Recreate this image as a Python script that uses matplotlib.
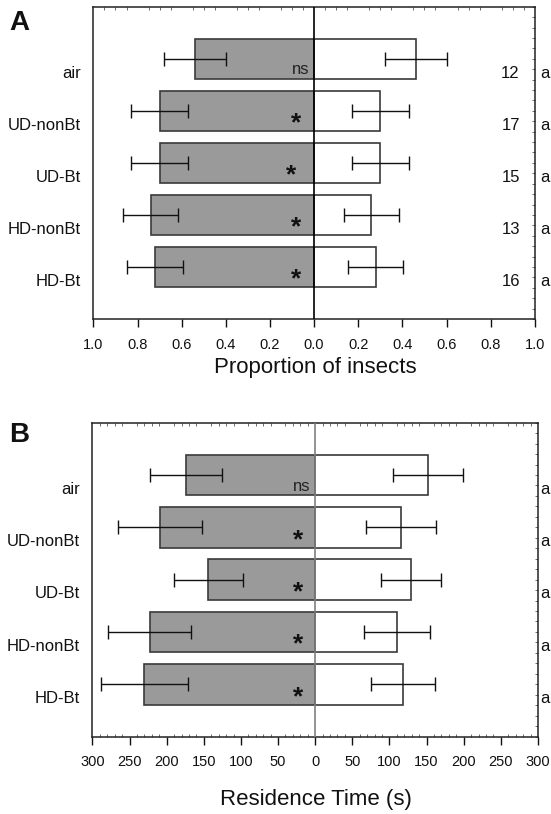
import numpy as np
import matplotlib
matplotlib.use("Agg")
import matplotlib.pyplot as plt
from matplotlib.ticker import MultipleLocator
import matplotlib.transforms as mtransforms

plt.rcParams['font.family'] = ['Liberation Sans', 'DejaVu Sans']

# ---------------- data ----------------
categories = ['air', 'UD-nonBt', 'UD-Bt', 'HD-nonBt', 'HD-Bt']

# Panel A: proportion of insects
A_left = [0.54, 0.70, 0.70, 0.74, 0.72]
A_left_err = [0.14, 0.13, 0.13, 0.125, 0.127]
A_right = [0.46, 0.30, 0.30, 0.26, 0.28]
A_right_err = [0.14, 0.13, 0.13, 0.125, 0.125]
A_n = ['12', '17', '15', '13', '16']
A_sig = ['ns', '*', '*', '*', '*']
A_ticks = [-1.0, -0.8, -0.6, -0.4, -0.2, 0.0, 0.2, 0.4, 0.6, 0.8, 1.0]
A_ticklabels = ['1.0', '0.8', '0.6', '0.4', '0.2', '0.0', '0.2', '0.4', '0.6', '0.8', '1.0']

# Panel B: residence time (s)
B_left = [174, 209, 144, 223, 230]
B_left_err = [49, 57, 46.5, 55.5, 59]
B_right = [152, 115, 129, 110, 118]
B_right_err = [47, 47, 41, 44, 43]
B_sig = ['ns', '*', '*', '*', '*']
B_ticks = [-300, -250, -200, -150, -100, -50, 0, 50, 100, 150, 200, 250, 300]
B_ticklabels = ['300', '250', '200', '150', '100', '50', '0', '50', '100', '150', '200', '250', '300']

letters = ['a', 'a', 'a', 'a', 'a']

W, H = 551, 814
fig = plt.figure(figsize=(W / 100, H / 100), dpi=100)


def px_rect(l, r, t, b):
    return [l / W, 1 - b / H, (r - l) / W, (b - t) / H]


GRAY = '#9a9a9a'
EDGE = '#3a3a3a'


def draw_panel(ax, left, lerr, right, rerr, lim, ticks, ticklabels, sig,
               sig_x, star_dx, zero_color, minor_step, ns_x, n_labels=None,
               letter_x=1.02, bottom_minor=False):
    y = np.arange(len(categories))
    hb = 0.78
    ax.barh(y, [-v for v in left], height=hb, color=GRAY, edgecolor=EDGE,
            linewidth=1.2, zorder=2)
    ax.barh(y, right, height=hb, color='white', edgecolor=EDGE,
            linewidth=1.2, zorder=2)
    ax.errorbar([-v for v in left], y, xerr=lerr, fmt='none', ecolor='#111111',
                elinewidth=1.0, capsize=4.7, capthick=1.0, zorder=3)
    ax.errorbar(right, y, xerr=rerr, fmt='none', ecolor='#111111',
                elinewidth=1.0, capsize=4.7, capthick=1.0, zorder=3)
    ax.axvline(0, color=zero_color, linewidth=1.2, zorder=4)
    ax.set_xlim(-lim, lim)
    ax.set_ylim(len(categories), -1)
    ax.set_xticks(ticks)
    ax.set_xticklabels(ticklabels, fontsize=10.5)
    ax.set_yticks([])
    ax.xaxis.set_minor_locator(MultipleLocator(minor_step))
    ax.yaxis.set_minor_locator(MultipleLocator(0.2))
    ax.tick_params(axis='x', which='major', direction='out', length=6,
                   width=1, pad=7.5, colors='#111111')
    ax.tick_params(axis='x', which='minor', direction='in', length=2,
                   width=0.6, top=True, bottom=bottom_minor, colors='#555555')
    ax.tick_params(axis='y', which='minor', direction='in', length=2,
                   width=0.6, left=False, right=True, colors='#555555')
    for s in ax.spines.values():
        s.set_linewidth(1.1)
        s.set_color('#222222')

    trans = mtransforms.blended_transform_factory(ax.transAxes, ax.transData)
    for i, cat in enumerate(categories):
        ax.text(-0.028, i + 0.36, cat, transform=trans, ha='right',
                va='baseline', fontsize=12, color='#111111', clip_on=False)
        ax.text(letter_x, i + 0.36, letters[i], transform=trans, ha='left',
                va='baseline', fontsize=12, color='#111111', clip_on=False)
        if n_labels is not None:
            ax.text(0.966, i + 0.36, n_labels[i], transform=trans, ha='right',
                    va='baseline', fontsize=12, color='#111111')
        if sig[i] == 'ns':
            ax.text(ns_x, i + 0.30, 'ns', ha='right', va='baseline',
                    fontsize=12, color='#222222', zorder=5)
        else:
            ax.text(sig_x + (star_dx if i == 2 else 0), i + 0.38, '*',
                    ha='center', va='baseline', fontsize=19, fontweight='bold',
                    color='#111111', zorder=5)


axA = fig.add_axes(px_rect(93.4, 534.8, 6.8, 319))
draw_panel(axA, A_left, A_left_err, A_right, A_right_err, 1.0, A_ticks,
           A_ticklabels, A_sig, -0.08, -0.026, '#000000', 0.05, -0.02,
           n_labels=A_n, letter_x=1.012)

axB = fig.add_axes(px_rect(92.4, 538.0, 422.7, 736.5))
draw_panel(axB, B_left, B_left_err, B_right, B_right_err, 300, B_ticks,
           B_ticklabels, B_sig, -23.5, 0, '#808080', 10, -7,
           letter_x=1.005, bottom_minor=True)

fig.text(315.5 / W, 1 - 368 / H, 'Proportion of insects', ha='center',
         va='center', fontsize=16, color='#111111')
fig.text(316 / W, 1 - 800 / H, 'Residence Time (s)', ha='center',
         va='center', fontsize=16, color='#111111')
fig.text(9 / W, 1 - 30 / H, 'A', ha='left', va='baseline', fontsize=20,
         fontweight='bold', color='#111111')
fig.text(9 / W, 1 - 441.7 / H, 'B', ha='left', va='baseline', fontsize=20,
         fontweight='bold', color='#111111')

fig.savefig('out.png', dpi=100)
